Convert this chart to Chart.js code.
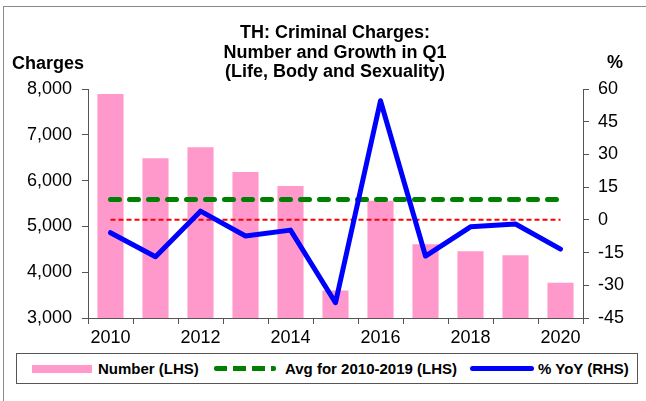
<!DOCTYPE html>
<html>
<head>
<meta charset="utf-8">
<script src="https://cdn.jsdelivr.net/npm/chart.js@4.4.1/dist/chart.umd.min.js"></script>
<style>
  body { margin: 0; background: #fff; font-family: "Liberation Sans", Arial, sans-serif; }
  #wrap { position: relative; width: 646px; height: 401px; overflow: hidden; }
  #frame { position: absolute; left: 3px; top: 6px; width: 700px; height: 500px;
           border-top: 1px solid #8a8a8a; border-left: 1px solid #8a8a8a; }
  #chartBox { position: absolute; left: 0; top: 0; width: 646px; height: 350px; }
  .txt { position: absolute; font-weight: bold; color: #000; white-space: nowrap; }
  #title { left: 135px; width: 400px; top: 23px; text-align: center; font-size: 18px; line-height: 19.5px; }
  #lhsTitle { left: 12px; top: 53px; font-size: 18px; }
  #rhsTitle { left: 607px; top: 52px; font-size: 18px; }
  #legend { position: absolute; left: 16px; top: 353px; width: 620px; height: 29px;
            border: 1px solid #555; background: #fff; }
  .lg { position: absolute; top: 0; height: 29px; line-height: 29px; font-size: 15px; font-weight: bold; }
  .sw { position: absolute; }
</style>
</head>
<body>
<div id="wrap">
  <div id="frame"></div>
  <div id="chartBox"><canvas id="crime-chart"></canvas></div>
  <div class="txt" id="title">TH: Criminal Charges:<br>Number and Growth in Q1<br>(Life, Body and Sexuality)</div>
  <div class="txt" id="lhsTitle">Charges</div>
  <div class="txt" id="rhsTitle">%</div>
  <div id="legend">
    <div class="sw" style="left:15px; top:11px; width:60px; height:8px; background:#FF99CC;"></div>
    <div class="lg" style="left:81px;">Number (LHS)</div>
    <div class="sw" style="left:197px; top:12px; width:62px; height:5px;
         background:repeating-linear-gradient(90deg,#008000 0 13px,transparent 13px 19px); border-radius:2px;"></div>
    <div class="lg" style="left:268px;">Avg for 2010-2019 (LHS)</div>
    <div class="sw" style="left:453px; top:12px; width:64px; height:5px; background:#0000FF; border-radius:2.5px;"></div>
    <div class="lg" style="left:521px;">% YoY (RHS)</div>
  </div>
</div>
<script>
const years = ["2010", "2011", "2012", "2013", "2014", "2015", "2016", "2017", "2018", "2019", "2020"];
const charges = [7890, 6490, 6730, 6190, 5880, 3600, 5560, 4610, 4460, 4370, 3770];
const avgCharges = [5590, 5590, 5590, 5590, 5590, 5590, 5590, 5590, 5590, 5590, 5590];
const zeroLine = [0, 0, 0, 0, 0, 0, 0, 0, 0, 0, 0];
const yoy = [-5.9, -16.9, 4.0, -7.4, -4.7, -38.0, 54.6, -16.6, -3.2, -1.9, -13.4];
const lhsTicks = [3000, 4000, 5000, 6000, 7000, 8000];
const rhsTicks = [-45, -30, -15, 0, 15, 30, 45, 60];

const axisColor = "#555";
const tickFont = { family: "'Liberation Sans', Arial, sans-serif", size: 18 };

new Chart("crime-chart", {
  data: {
    labels: years,
    datasets: [
      {
        type: "bar",
        label: "Number (LHS)",
        data: charges,
        yAxisID: "y",
        backgroundColor: "#FF99CC",
        categoryPercentage: 1,
        barPercentage: 0.58,
        order: 3
      },
      {
        type: "line",
        label: "Avg for 2010-2019 (LHS)",
        data: avgCharges,
        yAxisID: "y",
        borderColor: "#008000",
        borderWidth: 5,
        borderDash: [9, 10],
        borderCapStyle: "round",
        pointRadius: 0,
        order: 2
      },
      {
        type: "line",
        label: "zero",
        data: zeroLine,
        yAxisID: "y1",
        borderColor: "#FF0000",
        borderWidth: 2,
        borderDash: [5, 3],
        pointRadius: 0,
        order: 1
      },
      {
        type: "line",
        label: "% YoY (RHS)",
        data: yoy,
        yAxisID: "y1",
        borderColor: "#0000FF",
        borderWidth: 5,
        borderCapStyle: "round",
        borderJoinStyle: "round",
        pointRadius: 0,
        tension: 0,
        order: 0
      }
    ]
  },
  options: {
    responsive: true,
    maintainAspectRatio: false,
    animation: false,
    layout: { padding: { top: 89, left: 0, right: 0, bottom: 0 } },
    plugins: { legend: { display: false }, title: { display: false }, tooltip: { enabled: false } },
    scales: {
      x: {
        offset: true,
        grid: { offset: true, drawOnChartArea: false, tickLength: 6, color: axisColor },
        border: { color: axisColor, width: 1 },
        ticks: {
          autoSkip: false,
          maxRotation: 0,
          padding: 3,
          color: "#000",
          font: tickFont,
          callback: (v, i) => (i % 2 === 0 ? years[i] : "")
        },
        afterFit: s => { s.height = 32; }
      },
      y: {
        position: "left",
        min: lhsTicks[0],
        max: lhsTicks[lhsTicks.length - 1],
        afterBuildTicks: s => { s.ticks = lhsTicks.map(v => ({ value: v })); },
        grid: { drawOnChartArea: false, tickLength: 6, color: axisColor },
        border: { color: axisColor, width: 1 },
        ticks: { padding: 10, color: "#000", font: tickFont, callback: v => v.toLocaleString("en-US") },
        afterFit: s => { s.width = 88; }
      },
      y1: {
        position: "right",
        min: rhsTicks[0],
        max: rhsTicks[rhsTicks.length - 1],
        afterBuildTicks: s => { s.ticks = rhsTicks.map(v => ({ value: v })); },
        grid: { drawOnChartArea: false, tickLength: 6, color: axisColor },
        border: { color: axisColor, width: 1 },
        ticks: { padding: 9, color: "#000", font: tickFont },
        afterFit: s => { s.width = 63; }
      }
    }
  }
});
</script>
</body>
</html>
